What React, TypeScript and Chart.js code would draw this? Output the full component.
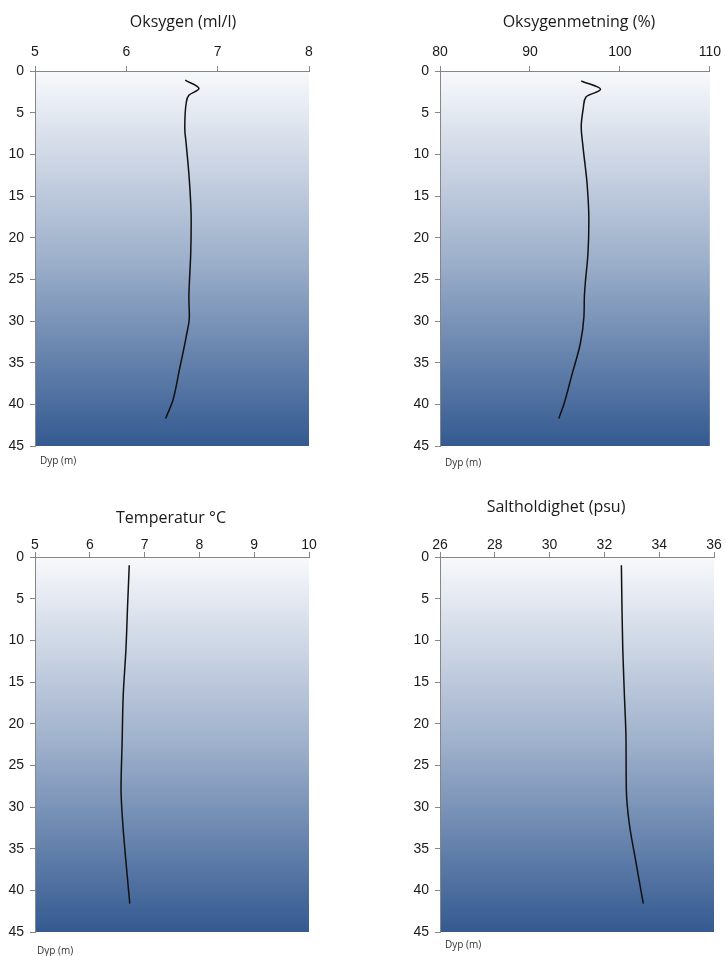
import React, { useEffect, useRef } from "react";
import { Chart, registerables } from "chart.js";

Chart.register(...registerables);

// ---- Data ----
const oxyDepth = [1.1, 2.1, 2.9, 3.9, 6.9, 8.7, 13.1, 17.9, 21.9, 25.5, 27.1, 29.5, 31.9, 35.9, 39.5, 41.7];
const oxyValues = [6.645, 6.795, 6.685, 6.655, 6.64, 6.655, 6.69, 6.71, 6.705, 6.69, 6.685, 6.69, 6.655, 6.58, 6.51, 6.43];

const satDepth = [1.2, 2.2, 3.1, 4.3, 6.7, 9.1, 13.5, 17.9, 21.9, 25.5, 27.1, 29.5, 32.7, 36.7, 39.9, 41.7];
const satValues = [95.7, 97.85, 96.25, 95.95, 95.7, 95.9, 96.35, 96.55, 96.45, 96.15, 96.05, 96.0, 95.6, 94.6, 93.8, 93.2];

const tempDepth = [1.0, 5.8, 11.0, 16.6, 22.2, 27.8, 31.8, 36.6, 41.6];
const tempValues = [6.72, 6.69, 6.66, 6.61, 6.59, 6.57, 6.6, 6.66, 6.73];

const saltDepth = [1.0, 5.8, 11.0, 16.6, 22.2, 27.8, 31.8, 36.6, 41.6];
const saltValues = [32.62, 32.64, 32.67, 32.73, 32.79, 32.8, 32.9, 33.15, 33.42];

const titles = ["Oksygen (ml/l)", "Oksygenmetning (%)", "Temperatur °C", "Saltholdighet (psu)"];
const depthLabel = "Dyp (m)";

const W = 726;
const H = 956;

type Panel = {
  title: string;
  xs: number[];
  ys: number[];
  min: number;
  max: number;
  step: number;
  rect: { l: number; r: number; t: number; b: number };
  titleX: number;
  titleY: number;
  dypX: number;
  dypY: number;
  xPad: number;
};

const panels: Panel[] = [
  { title: titles[0], xs: oxyValues, ys: oxyDepth, min: 5, max: 8, step: 1,
    rect: { l: 35, r: 309, t: 71, b: 446 }, titleX: 183, titleY: 27, dypX: 40, dypY: 461, xPad: 5 },
  { title: titles[1], xs: satValues, ys: satDepth, min: 80, max: 110, step: 10,
    rect: { l: 440, r: 713, t: 71, b: 446 }, titleX: 579, titleY: 27, dypX: 445, dypY: 463, xPad: 5 },
  { title: titles[2], xs: tempValues, ys: tempDepth, min: 5, max: 10, step: 1,
    rect: { l: 35, r: 309, t: 557, b: 932 }, titleX: 171, titleY: 523, dypX: 37, dypY: 951, xPad: -2 },
  { title: titles[3], xs: saltValues, ys: saltDepth, min: 26, max: 36, step: 2,
    rect: { l: 440, r: 714, t: 557, b: 932 }, titleX: 556, titleY: 512, dypX: 445, dypY: 945, xPad: -2 },
];

function PanelChart({ p }: { p: Panel }) {
  const ref = useRef<HTMLCanvasElement | null>(null);
  useEffect(() => {
    if (!ref.current) return;
    const bgPlugin = {
      id: "bgGrad",
      beforeDraw(chart: any) {
        const { ctx, chartArea: a } = chart;
        const g = ctx.createLinearGradient(0, a.top, 0, a.bottom);
        g.addColorStop(0, "rgb(248,249,252)");
        g.addColorStop(0.5, "rgb(158,176,203)");
        g.addColorStop(1, "rgb(52,90,145)");
        ctx.save();
        ctx.fillStyle = g;
        ctx.fillRect(a.left, a.top, a.right - a.left, a.bottom - a.top);
        ctx.restore();
      },
      afterDraw(chart: any) {
        const { ctx } = chart;
        ctx.save();
        ctx.fillStyle = "#1a1a1a";
        ctx.font = "16px 'Open Sans'";
        ctx.textAlign = "center";
        ctx.textBaseline = "alphabetic";
        ctx.fillText(p.title, p.titleX, p.titleY);
        ctx.font = "10px 'Open Sans'";
        ctx.textAlign = "left";
        ctx.textBaseline = "middle";
        ctx.fillStyle = "#333";
        ctx.fillText(depthLabel, p.dypX, p.dypY);
        ctx.restore();
      },
    };
    const data = p.xs.map((x, i) => ({ x, y: p.ys[i] }));
    const chart = new Chart(ref.current, {
      type: "scatter",
      data: {
        datasets: [
          {
            data,
            showLine: true,
            borderColor: "#111",
            borderWidth: 1.5,
            pointRadius: 0,
            cubicInterpolationMode: "monotone",
            fill: false,
          } as any,
        ],
      },
      options: {
        animation: false,
        responsive: false,
        indexAxis: "y",
        events: [],
        layout: {
          padding: {
            left: p.rect.l - 35,
            top: p.rect.t - 40,
            right: W - p.rect.r,
            bottom: H - p.rect.b,
          },
        },
        plugins: {
          legend: { display: false },
          title: { display: false },
          tooltip: { enabled: false },
        },
        scales: {
          x: {
            type: "linear",
            position: "top",
            min: p.min,
            max: p.max,
            afterFit(s: any) { s.height = 40; },
            ticks: {
              stepSize: p.step,
              padding: p.xPad,
              color: "#1a1a1a",
              font: { family: "'Liberation Sans', Arial", size: 14 },
            },
            grid: { display: true, drawOnChartArea: false, drawTicks: true, tickLength: 5, color: "#868686" },
            border: { display: true, color: "#868686", width: 1 },
          },
          y: {
            type: "linear",
            position: "left",
            reverse: true,
            min: 0,
            max: 45,
            afterFit(s: any) { s.width = 35; },
            ticks: {
              stepSize: 5,
              padding: 6,
              color: "#1a1a1a",
              font: { family: "'Liberation Sans', Arial", size: 14 },
            },
            grid: { display: true, drawOnChartArea: false, drawTicks: true, tickLength: 5, color: "#868686" },
            border: { display: true, color: "#868686", width: 1 },
          },
        },
      } as any,
      plugins: [bgPlugin],
    });
    return () => chart.destroy();
  }, [p]);
  return (
    <canvas
      ref={ref}
      width={W}
      height={H}
      style={{ position: "absolute", left: 0, top: 0, width: W, height: H }}
    />
  );
}

export default function App() {
  return (
    <div style={{ position: "fixed", left: 0, top: 0, width: W, height: H, background: "#fff" }}>
      {panels.map((p, i) => (
        <PanelChart key={i} p={p} />
      ))}
    </div>
  );
}
